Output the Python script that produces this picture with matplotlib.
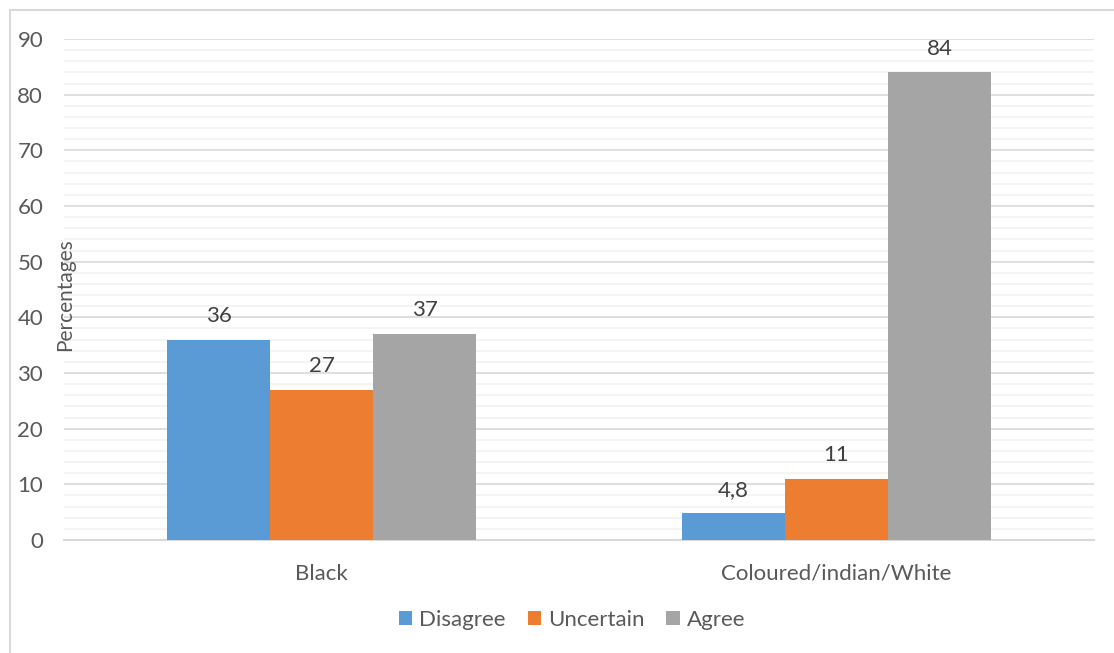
import numpy as np
import matplotlib
matplotlib.use("Agg")
import matplotlib.pyplot as plt
from matplotlib.patches import Rectangle, Patch

# data
groups = ["Black", "Coloured/indian/White"]
series = ["Disagree", "Uncertain", "Agree"]
disagree = [36, 4.8]
uncertain = [27, 11]
agree = [37, 84]
value_labels = [["36", "4,8"], ["27", "11"], ["37", "84"]]
colors = ["#5b9bd5", "#ed7d31", "#a5a5a5"]

txt = "#595959"
plt.rcParams['font.family'] = ['Lato', 'DejaVu Sans']
fs = 16

W, H = 1114, 653
fig = plt.figure(figsize=(W / 100, H / 100), dpi=100)
ax = fig.add_axes([64 / W, 1 - 540 / H, (1094 - 64) / W, (540 - 39) / H])

# outer chart border (cut off at right/bottom like the source)
fig.patches.append(Rectangle((10 / W, -0.1), 1.2, 1 - 10 / H + 0.1,
                             transform=fig.transFigure, fill=False,
                             edgecolor="#d9d9d9", linewidth=1.5))

x = np.arange(len(groups))
bw = 0.2
for i, (vals, c) in enumerate(zip([disagree, uncertain, agree], colors)):
    bars = ax.bar(x + (i - 1) * bw, vals, width=bw, color=c, zorder=3)
    for b, lab in zip(bars, value_labels[i]):
        ax.annotate(lab, (b.get_x() + b.get_width() / 2, b.get_height()),
                    xytext=(0, 17), textcoords="offset points",
                    ha="center", va="center", fontsize=fs, color="#404040")

ax.set_xlim(-0.5, 1.5)
ax.set_ylim(0, 90)
ax.set_yticks(np.arange(0, 91, 10))
ax.set_yticks(np.arange(0, 91, 2), minor=True)
ax.grid(axis="y", which="minor", color="#f2f2f2", linewidth=1.2, zorder=0)
ax.grid(axis="y", which="major", color="#d9d9d9", linewidth=1.2, zorder=1)
ax.set_axisbelow(True)

ax.set_xticks(x)
ax.set_xticklabels(groups)
ax.tick_params(axis="both", which="both", length=0, labelsize=fs, labelcolor=txt)
ax.tick_params(axis="y", pad=15)
ax.tick_params(axis="x", pad=17)
for s in ["top", "right", "left"]:
    ax.spines[s].set_visible(False)
ax.spines["bottom"].set_color("#d9d9d9")
ax.spines["bottom"].set_linewidth(1.5)

ax.set_ylabel("Percentages", fontsize=15, color=txt)
ax.yaxis.set_label_coords(0.011, 0.49)

handles = [Patch(facecolor=c, label=s) for c, s in zip(colors, series)]
fig.legend(handles=handles, loc="center", bbox_to_anchor=(572 / W, 1 - 620 / H),
           ncol=3, frameon=False, fontsize=fs, labelcolor=txt,
           handlelength=0.6, handleheight=0.6, handletextpad=0.3, columnspacing=1.0)

fig.savefig("out.png", dpi=100)
